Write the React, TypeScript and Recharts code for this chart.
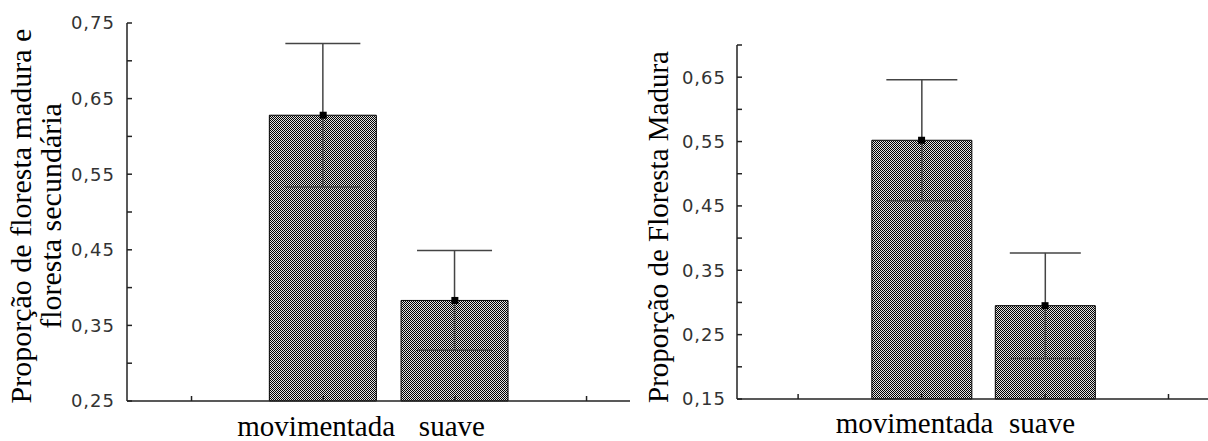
import React from 'react';
import { ComposedChart, Bar, XAxis, YAxis, ErrorBar, Line } from 'recharts';

// ---------- data ----------
const categories = ['movimentada', 'suave'];
const categoryPositions = [1, 2];
const xTickValues = [0, 1, 2, 3];

const leftMeans = [0.628, 0.383];
const leftErrors = [0.095, 0.066];
const leftYTicks = [0.25, 0.3, 0.35, 0.4, 0.45, 0.5, 0.55, 0.6, 0.65, 0.7, 0.75];
const leftYLabels = ['0,25', '', '0,35', '', '0,45', '', '0,55', '', '0,65', '', '0,75'];
const leftTitle = ['Proporção de floresta madura e', 'floresta secundária'];

const rightMeans = [0.552, 0.295];
const rightErrors = [0.094, 0.082];
const rightYTicks = [0.15, 0.2, 0.25, 0.3, 0.35, 0.4, 0.45, 0.5, 0.55, 0.6, 0.65, 0.7];
const rightYLabels = ['0,15', '', '0,25', '', '0,35', '', '0,45', '', '0,55', '', '0,65', ''];
const rightTitle = ['Proporção de Floresta Madura'];

const leftData = categoryPositions.map((x, i) => ({ x, mean: leftMeans[i], err: leftErrors[i] }));
const rightData = categoryPositions.map((x, i) => ({ x, mean: rightMeans[i], err: rightErrors[i] }));

// ---------- styles ----------
const AXIS = '#222';
const SERIF = '"Liberation Serif", "Times New Roman", serif';
const SANS = '"DejaVu Sans", sans-serif';
const labelDx = [-7, -3];

const makeYTick = (labels: string[], gap: number) => (props: any) => {
  const { x, y, index } = props;
  const lab = labels[index];
  return (
    <g>
      <line x1={x} x2={x + 5} y1={y} y2={y} stroke={AXIS} strokeWidth={1.5} />
      {lab ? (
        <text x={x - gap} y={y} dy="0.36em" textAnchor="end" fontFamily={SANS} fontSize={18} letterSpacing={1} fill="#333">
          {lab}
        </text>
      ) : null}
    </g>
  );
};

const makeXTick = (offset: number) => (props: any) => {
  const { x, y, payload } = props;
  const i = categoryPositions.indexOf(payload.value);
  return (
    <g>
      <line x1={x} x2={x} y1={y} y2={y - 5} stroke={AXIS} strokeWidth={1.5} />
      {i >= 0 ? (
        <text x={x + labelDx[i]} y={y + offset} textAnchor="middle" fontFamily={SERIF} fontSize={29} fill="#000">
          {categories[i]}
        </text>
      ) : null}
    </g>
  );
};

const makeTitle = (lines: string[], xs: number[], cy: number, size: number) => () => (
  <g>
    {lines.map((t, i) => (
      <text
        key={i}
        x={xs[i]}
        y={cy}
        transform={`rotate(-90, ${xs[i]}, ${cy})`}
        textAnchor="middle"
        fontFamily={SERIF}
        fontSize={size}
        fill="#000"
      >
        {t}
      </text>
    ))}
  </g>
);

const Square = (props: any) => {
  const { cx, cy, index } = props;
  if (cx == null || cy == null) return <g key={index} />;
  return <rect key={index} x={cx - 3.5} y={cy - 3.5} width={7} height={7} fill="#000" />;
};

const Pattern = ({ id }: { id: string }) => (
  <defs>
    <pattern id={id} width="2" height="2" patternUnits="userSpaceOnUse">
      <rect width="2" height="2" fill="#e2e2e2" />
      <rect width="1" height="1" fill="#000" />
      <rect x="1" y="1" width="1" height="1" fill="#000" />
    </pattern>
  </defs>
);

export default function App() {
  return (
    <div style={{ position: 'absolute', left: 0, top: 0, width: 1208, height: 441, background: '#fff', overflow: 'hidden' }}>
      <div style={{ position: 'absolute', left: 0, top: 0 }}>
        <ComposedChart width={630} height={441} data={leftData} margin={{ top: 23, right: 0, bottom: 10, left: 67 }}>
          <Pattern id="dotsL" />
          <XAxis
            dataKey="x"
            type="number"
            domain={[-0.49, 3.33]}
            ticks={xTickValues}
            interval={0}
            height={30}
            tickSize={0}
            tickMargin={0}
            tickLine={false}
            axisLine={{ stroke: AXIS, strokeWidth: 1.5 }}
            tick={makeXTick(35)}
          />
          <YAxis
            type="number"
            domain={[0.25, 0.75]}
            ticks={leftYTicks}
            interval={0}
            width={60}
            tickSize={0}
            tickMargin={0}
            tickLine={false}
            axisLine={{ stroke: AXIS, strokeWidth: 1.5 }}
            tick={makeYTick(leftYLabels, 12)}
            label={makeTitle(leftTitle, [31, 61], 216, 30)}
          />
          <Bar dataKey="mean" barSize={107} fill="url(#dotsL)" stroke="#000" strokeWidth={1} isAnimationActive={false}>
            <ErrorBar dataKey="err" width={37.5} stroke="#444" strokeWidth={1.5} direction="y" />
          </Bar>
          <Line dataKey="mean" stroke="none" dot={Square} activeDot={false} isAnimationActive={false} />
        </ComposedChart>
      </div>
      <div style={{ position: 'absolute', left: 630, top: 0 }}>
        <ComposedChart width={578} height={441} data={rightData} margin={{ top: 45, right: 0, bottom: 12, left: 47 }}>
          <Pattern id="dotsR" />
          <XAxis
            dataKey="x"
            type="number"
            domain={[-0.495, 3.32]}
            ticks={xTickValues}
            interval={0}
            height={30}
            tickSize={0}
            tickMargin={0}
            tickLine={false}
            axisLine={{ stroke: AXIS, strokeWidth: 1.5 }}
            tick={makeXTick(34)}
          />
          <YAxis
            type="number"
            domain={[0.15, 0.7]}
            ticks={rightYTicks}
            interval={0}
            width={60}
            tickSize={0}
            tickMargin={0}
            tickLine={false}
            axisLine={{ stroke: AXIS, strokeWidth: 1.5 }}
            tick={makeYTick(rightYLabels, 11)}
            label={makeTitle(rightTitle, [38], 227, 29)}
          />
          <Bar dataKey="mean" barSize={100} fill="url(#dotsR)" stroke="#000" strokeWidth={1} isAnimationActive={false}>
            <ErrorBar dataKey="err" width={35.5} stroke="#444" strokeWidth={1.5} direction="y" />
          </Bar>
          <Line dataKey="mean" stroke="none" dot={Square} activeDot={false} isAnimationActive={false} />
        </ComposedChart>
      </div>
    </div>
  );
}
